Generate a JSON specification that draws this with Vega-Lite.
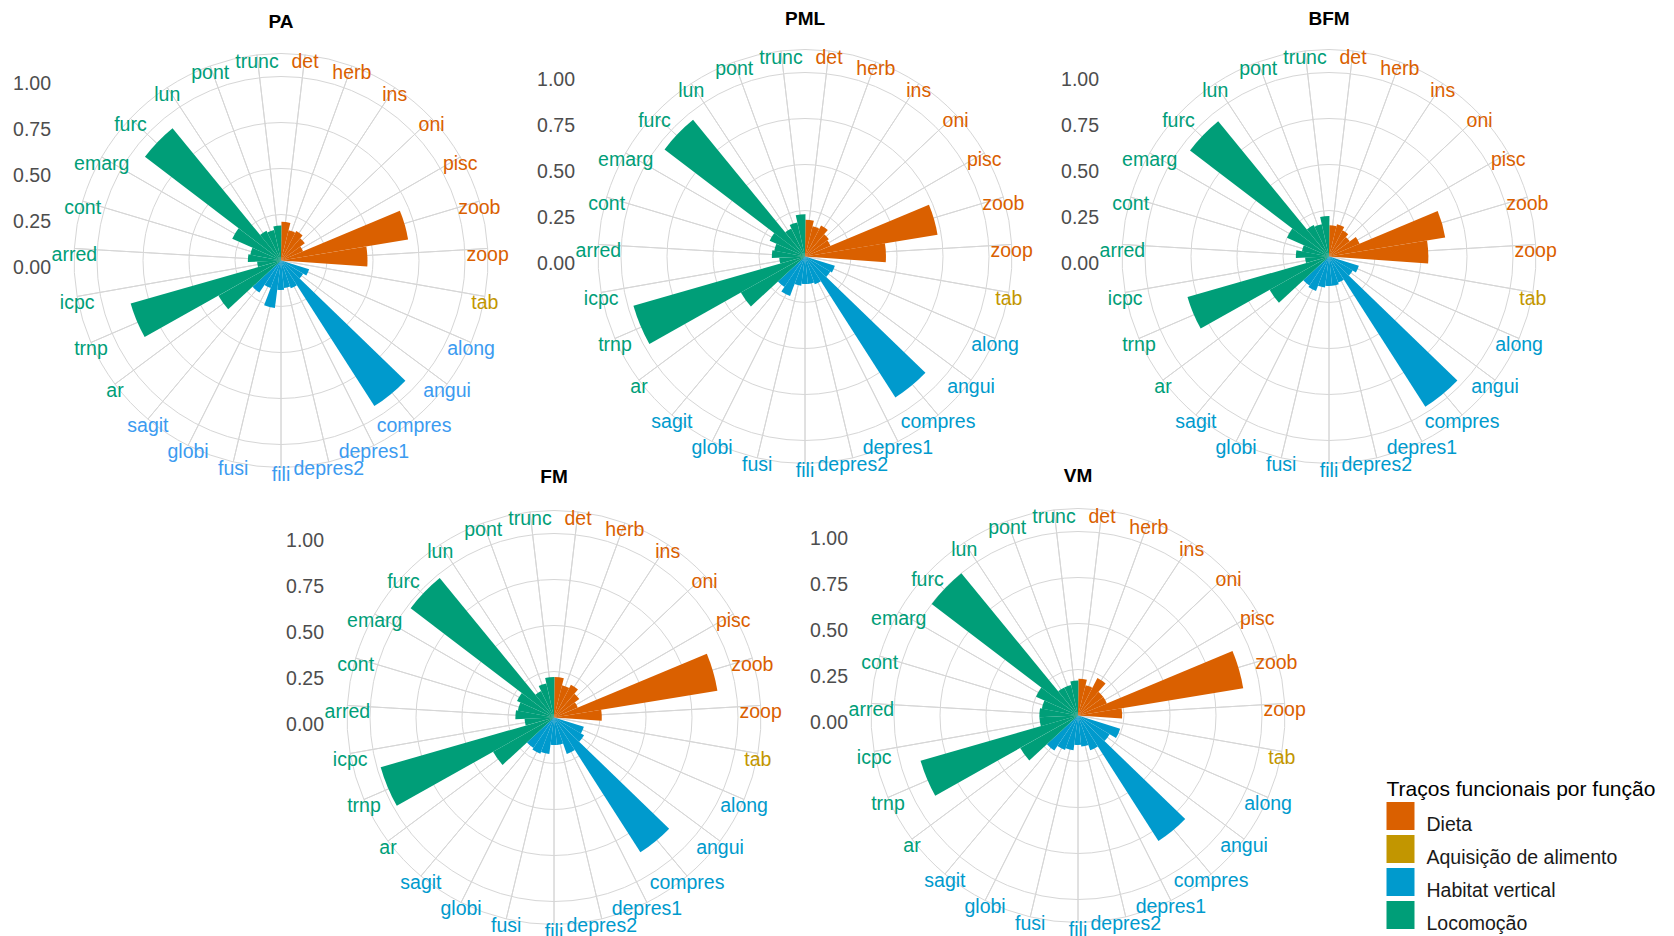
{
  "$schema": "https://vega.github.io/schema/vega-lite/v6.json",
  "autosize": {"type": "pad"},
  "padding": {"left": 13, "top": 10, "right": 0, "bottom": 0},
  "background": "white",
  "datasets": {
    "traits": [
      {"cat": "det", "func": "Dieta"}, {"cat": "herb", "func": "Dieta"}, {"cat": "ins", "func": "Dieta"}, {"cat": "oni", "func": "Dieta"},
      {"cat": "pisc", "func": "Dieta"}, {"cat": "zoob", "func": "Dieta"}, {"cat": "zoop", "func": "Dieta"},
      {"cat": "tab", "func": "Aquisição de alimento"},
      {"cat": "along", "func": "Habitat vertical"}, {"cat": "angui", "func": "Habitat vertical"}, {"cat": "compres", "func": "Habitat vertical"},
      {"cat": "depres1", "func": "Habitat vertical"}, {"cat": "depres2", "func": "Habitat vertical"}, {"cat": "fili", "func": "Habitat vertical"},
      {"cat": "fusi", "func": "Habitat vertical"}, {"cat": "globi", "func": "Habitat vertical"}, {"cat": "sagit", "func": "Habitat vertical"},
      {"cat": "ar", "func": "Locomoção"}, {"cat": "trnp", "func": "Locomoção"}, {"cat": "icpc", "func": "Locomoção"}, {"cat": "arred", "func": "Locomoção"},
      {"cat": "cont", "func": "Locomoção"}, {"cat": "emarg", "func": "Locomoção"}, {"cat": "furc", "func": "Locomoção"}, {"cat": "lun", "func": "Locomoção"},
      {"cat": "pont", "func": "Locomoção"}, {"cat": "trunc", "func": "Locomoção"}
    ],
    "rings": [{"r": 0.25}, {"r": 0.5}, {"r": 0.75}, {"r": 1}],
    "breaks": [{"r": 0}, {"r": 0.25}, {"r": 0.5}, {"r": 0.75}, {"r": 1}],
    "vals": [
      {"panel": "PA", "cat": "det", "value": 0.21}, {"panel": "PA", "cat": "herb", "value": 0.17}, {"panel": "PA", "cat": "ins", "value": 0.18},
      {"panel": "PA", "cat": "oni", "value": 0.16}, {"panel": "PA", "cat": "pisc", "value": 0.13}, {"panel": "PA", "cat": "zoob", "value": 0.70},
      {"panel": "PA", "cat": "zoop", "value": 0.47}, {"panel": "PA", "cat": "tab", "value": 0},
      {"panel": "PA", "cat": "along", "value": 0.16}, {"panel": "PA", "cat": "angui", "value": 0.14}, {"panel": "PA", "cat": "compres", "value": 0.94},
      {"panel": "PA", "cat": "depres1", "value": 0.16}, {"panel": "PA", "cat": "depres2", "value": 0.15}, {"panel": "PA", "cat": "fili", "value": 0.16},
      {"panel": "PA", "cat": "fusi", "value": 0.26}, {"panel": "PA", "cat": "globi", "value": 0.16}, {"panel": "PA", "cat": "sagit", "value": 0.21},
      {"panel": "PA", "cat": "ar", "value": 0.39}, {"panel": "PA", "cat": "trnp", "value": 0.85}, {"panel": "PA", "cat": "icpc", "value": 0.13},
      {"panel": "PA", "cat": "arred", "value": 0.18}, {"panel": "PA", "cat": "cont", "value": 0.17}, {"panel": "PA", "cat": "emarg", "value": 0.29},
      {"panel": "PA", "cat": "furc", "value": 0.93}, {"panel": "PA", "cat": "lun", "value": 0.18}, {"panel": "PA", "cat": "pont", "value": 0.17},
      {"panel": "PA", "cat": "trunc", "value": 0.19},

      {"panel": "PML", "cat": "det", "value": 0.20}, {"panel": "PML", "cat": "herb", "value": 0.17}, {"panel": "PML", "cat": "ins", "value": 0.19},
      {"panel": "PML", "cat": "oni", "value": 0.16}, {"panel": "PML", "cat": "pisc", "value": 0.15}, {"panel": "PML", "cat": "zoob", "value": 0.73},
      {"panel": "PML", "cat": "zoop", "value": 0.44}, {"panel": "PML", "cat": "tab", "value": 0},
      {"panel": "PML", "cat": "along", "value": 0.17}, {"panel": "PML", "cat": "angui", "value": 0.16}, {"panel": "PML", "cat": "compres", "value": 0.91},
      {"panel": "PML", "cat": "depres1", "value": 0.16}, {"panel": "PML", "cat": "depres2", "value": 0.15}, {"panel": "PML", "cat": "fili", "value": 0.15},
      {"panel": "PML", "cat": "fusi", "value": 0.16}, {"panel": "PML", "cat": "globi", "value": 0.23}, {"panel": "PML", "cat": "sagit", "value": 0.20},
      {"panel": "PML", "cat": "ar", "value": 0.40}, {"panel": "PML", "cat": "trnp", "value": 0.97}, {"panel": "PML", "cat": "icpc", "value": 0.14},
      {"panel": "PML", "cat": "arred", "value": 0.18}, {"panel": "PML", "cat": "cont", "value": 0.17}, {"panel": "PML", "cat": "emarg", "value": 0.21},
      {"panel": "PML", "cat": "furc", "value": 0.96}, {"panel": "PML", "cat": "lun", "value": 0.17}, {"panel": "PML", "cat": "pont", "value": 0.19},
      {"panel": "PML", "cat": "trunc", "value": 0.23},

      {"panel": "BFM", "cat": "det", "value": 0.17}, {"panel": "BFM", "cat": "herb", "value": 0.18}, {"panel": "BFM", "cat": "ins", "value": 0.16},
      {"panel": "BFM", "cat": "oni", "value": 0.14}, {"panel": "BFM", "cat": "pisc", "value": 0.18}, {"panel": "BFM", "cat": "zoob", "value": 0.64},
      {"panel": "BFM", "cat": "zoop", "value": 0.54}, {"panel": "BFM", "cat": "tab", "value": 0},
      {"panel": "BFM", "cat": "along", "value": 0.17}, {"panel": "BFM", "cat": "angui", "value": 0.15}, {"panel": "BFM", "cat": "compres", "value": 0.97},
      {"panel": "BFM", "cat": "depres1", "value": 0.15}, {"panel": "BFM", "cat": "depres2", "value": 0.16}, {"panel": "BFM", "cat": "fili", "value": 0.16},
      {"panel": "BFM", "cat": "fusi", "value": 0.17}, {"panel": "BFM", "cat": "globi", "value": 0.20}, {"panel": "BFM", "cat": "sagit", "value": 0.19},
      {"panel": "BFM", "cat": "ar", "value": 0.37}, {"panel": "BFM", "cat": "trnp", "value": 0.80}, {"panel": "BFM", "cat": "icpc", "value": 0.13},
      {"panel": "BFM", "cat": "arred", "value": 0.18}, {"panel": "BFM", "cat": "cont", "value": 0.15}, {"panel": "BFM", "cat": "emarg", "value": 0.25},
      {"panel": "BFM", "cat": "furc", "value": 0.95}, {"panel": "BFM", "cat": "lun", "value": 0.19}, {"panel": "BFM", "cat": "pont", "value": 0.18},
      {"panel": "BFM", "cat": "trunc", "value": 0.22},

      {"panel": "FM", "cat": "det", "value": 0.22}, {"panel": "FM", "cat": "herb", "value": 0.18}, {"panel": "FM", "cat": "ins", "value": 0.20},
      {"panel": "FM", "cat": "oni", "value": 0.17}, {"panel": "FM", "cat": "pisc", "value": 0.14}, {"panel": "FM", "cat": "zoob", "value": 0.90},
      {"panel": "FM", "cat": "zoop", "value": 0.26}, {"panel": "FM", "cat": "tab", "value": 0},
      {"panel": "FM", "cat": "along", "value": 0.17}, {"panel": "FM", "cat": "angui", "value": 0.19}, {"panel": "FM", "cat": "compres", "value": 0.87},
      {"panel": "FM", "cat": "depres1", "value": 0.21}, {"panel": "FM", "cat": "depres2", "value": 0.15}, {"panel": "FM", "cat": "fili", "value": 0.15},
      {"panel": "FM", "cat": "fusi", "value": 0.20}, {"panel": "FM", "cat": "globi", "value": 0.21}, {"panel": "FM", "cat": "sagit", "value": 0.20},
      {"panel": "FM", "cat": "ar", "value": 0.38}, {"panel": "FM", "cat": "trnp", "value": 0.98}, {"panel": "FM", "cat": "icpc", "value": 0.16},
      {"panel": "FM", "cat": "arred", "value": 0.21}, {"panel": "FM", "cat": "cont", "value": 0.20}, {"panel": "FM", "cat": "emarg", "value": 0.22},
      {"panel": "FM", "cat": "furc", "value": 0.98}, {"panel": "FM", "cat": "lun", "value": 0.16}, {"panel": "FM", "cat": "pont", "value": 0.19},
      {"panel": "FM", "cat": "trunc", "value": 0.22},

      {"panel": "VM", "cat": "det", "value": 0.20}, {"panel": "VM", "cat": "herb", "value": 0.17}, {"panel": "VM", "cat": "ins", "value": 0.23},
      {"panel": "VM", "cat": "oni", "value": 0.17}, {"panel": "VM", "cat": "pisc", "value": 0.17}, {"panel": "VM", "cat": "zoob", "value": 0.91},
      {"panel": "VM", "cat": "zoop", "value": 0.24}, {"panel": "VM", "cat": "tab", "value": 0},
      {"panel": "VM", "cat": "along", "value": 0.24}, {"panel": "VM", "cat": "angui", "value": 0.20}, {"panel": "VM", "cat": "compres", "value": 0.81},
      {"panel": "VM", "cat": "depres1", "value": 0.20}, {"panel": "VM", "cat": "depres2", "value": 0.17}, {"panel": "VM", "cat": "fili", "value": 0.16},
      {"panel": "VM", "cat": "fusi", "value": 0.19}, {"panel": "VM", "cat": "globi", "value": 0.20}, {"panel": "VM", "cat": "sagit", "value": 0.23},
      {"panel": "VM", "cat": "ar", "value": 0.36}, {"panel": "VM", "cat": "trnp", "value": 0.89}, {"panel": "VM", "cat": "icpc", "value": 0.21},
      {"panel": "VM", "cat": "arred", "value": 0.21}, {"panel": "VM", "cat": "cont", "value": 0.20}, {"panel": "VM", "cat": "emarg", "value": 0.25},
      {"panel": "VM", "cat": "furc", "value": 1.0}, {"panel": "VM", "cat": "lun", "value": 0.17}, {"panel": "VM", "cat": "pont", "value": 0.17},
      {"panel": "VM", "cat": "trunc", "value": 0.19}
    ]
  },
  "spacing": -17.5,
  "resolve": {"legend": {"color": "independent"}},
  "vconcat": [
    {
      "spacing": 24,
      "bounds": "flush",
      "resolve": {"legend": {"color": "independent"}},
      "hconcat": [
        {
          "width": 500, "height": 437, "title": {"text": "PA", "offset": 9.8},
          "data": {"name": "vals"},
          "transform": [{"filter": "datum.panel === 'PA'"}, {"lookup": "cat", "from": {"data": {"name": "traits"}, "key": "cat", "fields": ["func"]}}],
          "layer": [
            {"data": {"name": "rings"}, "mark": {"type": "arc", "filled": false, "color": "#D6D6D6", "strokeWidth": 1},
             "encoding": {"radius": {"field": "r", "type": "quantitative", "stack": null, "scale": {"type": "linear", "domain": [0, 1], "range": [0, 184], "zero": true, "nice": false}}}},
            {"mark": {"type": "arc", "filled": false, "color": "#D6D6D6", "strokeWidth": 1, "thetaOffset": 0.116355, "theta2Offset": 0.116355},
             "encoding": {"theta": {"field": "cat", "type": "nominal", "scale": {"type": "band", "domain": ["det","herb","ins","oni","pisc","zoob","zoop","tab","along","angui","compres","depres1","depres2","fili","fusi","globi","sagit","ar","trnp","icpc","arred","cont","emarg","furc","lun","pont","trunc"], "range": [0, 6.283185307179586], "paddingInner": 0, "paddingOuter": 0}},
                          "radius": {"datum": 1.125, "type": "quantitative", "stack": null}}},
            {"mark": {"type": "arc", "thetaOffset": 0.011636, "theta2Offset": -0.011636},
             "encoding": {"theta": {"field": "cat", "type": "nominal"},
                          "radius": {"field": "value", "type": "quantitative", "stack": null},
                          "color": {"field": "func", "type": "nominal", "legend": null, "scale": {"domain": ["Dieta", "Aquisição de alimento", "Habitat vertical", "Locomoção"], "range": ["#DA6000", "#C29600", "#009ACD", "#009E78"]}}}},
            {"mark": {"type": "text", "fontSize": 19.5, "font": "Liberation Sans", "align": "center", "baseline": "middle", "dy": 7},
             "encoding": {"theta": {"field": "cat", "type": "nominal"},
                          "radius": {"datum": 1.125, "type": "quantitative", "stack": null},
                          "text": {"field": "cat"},
                          "color": {"condition": {"test": "datum.func === 'Habitat vertical'", "value": "#3C9BF0"}, "field": "func", "type": "nominal", "legend": null}}},
            {"data": {"name": "breaks"}, "mark": {"type": "text", "align": "right", "baseline": "middle", "dx": -230, "dy": 7.5, "fontSize": 19.5, "font": "Liberation Sans", "color": "#4D4D4D"},
             "encoding": {"theta": {"value": 0}, "radius": {"field": "r", "type": "quantitative", "stack": null}, "text": {"field": "r", "format": ".2f"}}}
          ]
        },
        {
          "width": 500, "height": 429, "title": "PML",
          "data": {"name": "vals"},
          "transform": [{"filter": "datum.panel === 'PML'"}, {"lookup": "cat", "from": {"data": {"name": "traits"}, "key": "cat", "fields": ["func"]}}],
          "layer": [
            {"data": {"name": "rings"}, "mark": {"type": "arc", "filled": false, "color": "#D6D6D6", "strokeWidth": 1},
             "encoding": {"radius": {"field": "r", "type": "quantitative", "stack": null, "scale": {"type": "linear", "domain": [0, 1], "range": [0, 184], "zero": true, "nice": false}}}},
            {"mark": {"type": "arc", "filled": false, "color": "#D6D6D6", "strokeWidth": 1, "thetaOffset": 0.116355, "theta2Offset": 0.116355},
             "encoding": {"theta": {"field": "cat", "type": "nominal", "scale": {"type": "band", "domain": ["det","herb","ins","oni","pisc","zoob","zoop","tab","along","angui","compres","depres1","depres2","fili","fusi","globi","sagit","ar","trnp","icpc","arred","cont","emarg","furc","lun","pont","trunc"], "range": [0, 6.283185307179586], "paddingInner": 0, "paddingOuter": 0}},
                          "radius": {"datum": 1.125, "type": "quantitative", "stack": null}}},
            {"mark": {"type": "arc", "thetaOffset": 0.011636, "theta2Offset": -0.011636},
             "encoding": {"theta": {"field": "cat", "type": "nominal"},
                          "radius": {"field": "value", "type": "quantitative", "stack": null},
                          "color": {"field": "func", "type": "nominal", "legend": null, "scale": {"domain": ["Dieta", "Aquisição de alimento", "Habitat vertical", "Locomoção"], "range": ["#DA6000", "#C29600", "#009ACD", "#009E78"]}}}},
            {"mark": {"type": "text", "fontSize": 19.5, "font": "Liberation Sans", "align": "center", "baseline": "middle", "dy": 7},
             "encoding": {"theta": {"field": "cat", "type": "nominal"},
                          "radius": {"datum": 1.125, "type": "quantitative", "stack": null},
                          "text": {"field": "cat"},
                          "color": {"field": "func", "type": "nominal", "legend": null}}},
            {"data": {"name": "breaks"}, "mark": {"type": "text", "align": "right", "baseline": "middle", "dx": -230, "dy": 7.5, "fontSize": 19.5, "font": "Liberation Sans", "color": "#4D4D4D"},
             "encoding": {"theta": {"value": 0}, "radius": {"field": "r", "type": "quantitative", "stack": null}, "text": {"field": "r", "format": ".2f"}}}
          ]
        },
        {
          "width": 500, "height": 429, "title": "BFM",
          "data": {"name": "vals"},
          "transform": [{"filter": "datum.panel === 'BFM'"}, {"lookup": "cat", "from": {"data": {"name": "traits"}, "key": "cat", "fields": ["func"]}}],
          "layer": [
            {"data": {"name": "rings"}, "mark": {"type": "arc", "filled": false, "color": "#D6D6D6", "strokeWidth": 1},
             "encoding": {"radius": {"field": "r", "type": "quantitative", "stack": null, "scale": {"type": "linear", "domain": [0, 1], "range": [0, 184], "zero": true, "nice": false}}}},
            {"mark": {"type": "arc", "filled": false, "color": "#D6D6D6", "strokeWidth": 1, "thetaOffset": 0.116355, "theta2Offset": 0.116355},
             "encoding": {"theta": {"field": "cat", "type": "nominal", "scale": {"type": "band", "domain": ["det","herb","ins","oni","pisc","zoob","zoop","tab","along","angui","compres","depres1","depres2","fili","fusi","globi","sagit","ar","trnp","icpc","arred","cont","emarg","furc","lun","pont","trunc"], "range": [0, 6.283185307179586], "paddingInner": 0, "paddingOuter": 0}},
                          "radius": {"datum": 1.125, "type": "quantitative", "stack": null}}},
            {"mark": {"type": "arc", "thetaOffset": 0.011636, "theta2Offset": -0.011636},
             "encoding": {"theta": {"field": "cat", "type": "nominal"},
                          "radius": {"field": "value", "type": "quantitative", "stack": null},
                          "color": {"field": "func", "type": "nominal", "legend": null, "scale": {"domain": ["Dieta", "Aquisição de alimento", "Habitat vertical", "Locomoção"], "range": ["#DA6000", "#C29600", "#009ACD", "#009E78"]}}}},
            {"mark": {"type": "text", "fontSize": 19.5, "font": "Liberation Sans", "align": "center", "baseline": "middle", "dy": 7},
             "encoding": {"theta": {"field": "cat", "type": "nominal"},
                          "radius": {"datum": 1.125, "type": "quantitative", "stack": null},
                          "text": {"field": "cat"},
                          "color": {"field": "func", "type": "nominal", "legend": null}}},
            {"data": {"name": "breaks"}, "mark": {"type": "text", "align": "right", "baseline": "middle", "dx": -230, "dy": 7.5, "fontSize": 19.5, "font": "Liberation Sans", "color": "#4D4D4D"},
             "encoding": {"theta": {"value": 0}, "radius": {"field": "r", "type": "quantitative", "stack": null}, "text": {"field": "r", "format": ".2f"}}}
          ]
        }
      ]
    },
    {
      "spacing": 24,
      "bounds": "flush",
      "resolve": {"legend": {"color": "independent"}},
      "hconcat": [
        {"width": 249, "height": 420, "data": {"values": [{"a": 1}]}, "mark": {"type": "point", "opacity": 0}},
        {
          "width": 500, "height": 420, "title": {"text": "FM", "offset": 21},
          "data": {"name": "vals"},
          "transform": [{"filter": "datum.panel === 'FM'"}, {"lookup": "cat", "from": {"data": {"name": "traits"}, "key": "cat", "fields": ["func"]}}],
          "layer": [
            {"data": {"name": "rings"}, "mark": {"type": "arc", "filled": false, "color": "#D6D6D6", "strokeWidth": 1},
             "encoding": {"radius": {"field": "r", "type": "quantitative", "stack": null, "scale": {"type": "linear", "domain": [0, 1], "range": [0, 184], "zero": true, "nice": false}}}},
            {"mark": {"type": "arc", "filled": false, "color": "#D6D6D6", "strokeWidth": 1, "thetaOffset": 0.116355, "theta2Offset": 0.116355},
             "encoding": {"theta": {"field": "cat", "type": "nominal", "scale": {"type": "band", "domain": ["det","herb","ins","oni","pisc","zoob","zoop","tab","along","angui","compres","depres1","depres2","fili","fusi","globi","sagit","ar","trnp","icpc","arred","cont","emarg","furc","lun","pont","trunc"], "range": [0, 6.283185307179586], "paddingInner": 0, "paddingOuter": 0}},
                          "radius": {"datum": 1.125, "type": "quantitative", "stack": null}}},
            {"mark": {"type": "arc", "thetaOffset": 0.011636, "theta2Offset": -0.011636},
             "encoding": {"theta": {"field": "cat", "type": "nominal"},
                          "radius": {"field": "value", "type": "quantitative", "stack": null},
                          "color": {"field": "func", "type": "nominal", "legend": null, "scale": {"domain": ["Dieta", "Aquisição de alimento", "Habitat vertical", "Locomoção"], "range": ["#DA6000", "#C29600", "#009ACD", "#009E78"]}}}},
            {"mark": {"type": "text", "fontSize": 19.5, "font": "Liberation Sans", "align": "center", "baseline": "middle", "dy": 7},
             "encoding": {"theta": {"field": "cat", "type": "nominal"},
                          "radius": {"datum": 1.125, "type": "quantitative", "stack": null},
                          "text": {"field": "cat"},
                          "color": {"field": "func", "type": "nominal", "legend": null}}},
            {"data": {"name": "breaks"}, "mark": {"type": "text", "align": "right", "baseline": "middle", "dx": -230, "dy": 7.5, "fontSize": 19.5, "font": "Liberation Sans", "color": "#4D4D4D"},
             "encoding": {"theta": {"value": 0}, "radius": {"field": "r", "type": "quantitative", "stack": null}, "text": {"field": "r", "format": ".2f"}}}
          ]
        },
        {
          "width": 500, "height": 416, "title": {"text": "VM", "offset": 21},
          "data": {"name": "vals"},
          "transform": [{"filter": "datum.panel === 'VM'"}, {"lookup": "cat", "from": {"data": {"name": "traits"}, "key": "cat", "fields": ["func"]}}],
          "layer": [
            {"data": {"name": "rings"}, "mark": {"type": "arc", "filled": false, "color": "#D6D6D6", "strokeWidth": 1},
             "encoding": {"radius": {"field": "r", "type": "quantitative", "stack": null, "scale": {"type": "linear", "domain": [0, 1], "range": [0, 184], "zero": true, "nice": false}}}},
            {"mark": {"type": "arc", "filled": false, "color": "#D6D6D6", "strokeWidth": 1, "thetaOffset": 0.116355, "theta2Offset": 0.116355},
             "encoding": {"theta": {"field": "cat", "type": "nominal", "scale": {"type": "band", "domain": ["det","herb","ins","oni","pisc","zoob","zoop","tab","along","angui","compres","depres1","depres2","fili","fusi","globi","sagit","ar","trnp","icpc","arred","cont","emarg","furc","lun","pont","trunc"], "range": [0, 6.283185307179586], "paddingInner": 0, "paddingOuter": 0}},
                          "radius": {"datum": 1.125, "type": "quantitative", "stack": null}}},
            {"mark": {"type": "arc", "thetaOffset": 0.011636, "theta2Offset": -0.011636},
             "encoding": {"theta": {"field": "cat", "type": "nominal"},
                          "radius": {"field": "value", "type": "quantitative", "stack": null},
                          "color": {"field": "func", "type": "nominal",
                                    "scale": {"domain": ["Dieta", "Aquisição de alimento", "Habitat vertical", "Locomoção"], "range": ["#DA6000", "#C29600", "#009ACD", "#009E78"]},
                                    "legend": {"title": "Traços funcionais por função", "orient": "none", "legendX": 558.5, "legendY": 271.5, "padding": 0,
                                               "symbolType": "square", "symbolSize": 784, "symbolStrokeWidth": 0, "symbolOpacity": 1,
                                               "labelFontSize": 19.5, "labelFont": "Liberation Sans", "labelColor": "#1A1A1A", "labelOffset": 12, "labelLimit": 400, "labelBaseline": "top",
                                               "titleFontSize": 21, "titleFont": "Liberation Sans", "titleFontWeight": "normal", "titleColor": "#000000", "titlePadding": 2, "titleLimit": 400,
                                               "rowPadding": 0}}}},
            {"mark": {"type": "text", "fontSize": 19.5, "font": "Liberation Sans", "align": "center", "baseline": "middle", "dy": 7},
             "encoding": {"theta": {"field": "cat", "type": "nominal"},
                          "radius": {"datum": 1.125, "type": "quantitative", "stack": null},
                          "text": {"field": "cat"},
                          "color": {"field": "func", "type": "nominal", "legend": null}}},
            {"data": {"name": "breaks"}, "mark": {"type": "text", "align": "right", "baseline": "middle", "dx": -230, "dy": 7.5, "fontSize": 19.5, "font": "Liberation Sans", "color": "#4D4D4D"},
             "encoding": {"theta": {"value": 0}, "radius": {"field": "r", "type": "quantitative", "stack": null}, "text": {"field": "r", "format": ".2f"}}}
          ]
        }
      ]
    }
  ],
  "config": {
    "view": {"stroke": null},
    "font": "Liberation Sans",
    "title": {"fontSize": 19, "fontWeight": "bold", "color": "#000000", "offset": 13, "baseline": "alphabetic", "frame": "group", "anchor": "middle", "font": "Liberation Sans"}
  }
}
